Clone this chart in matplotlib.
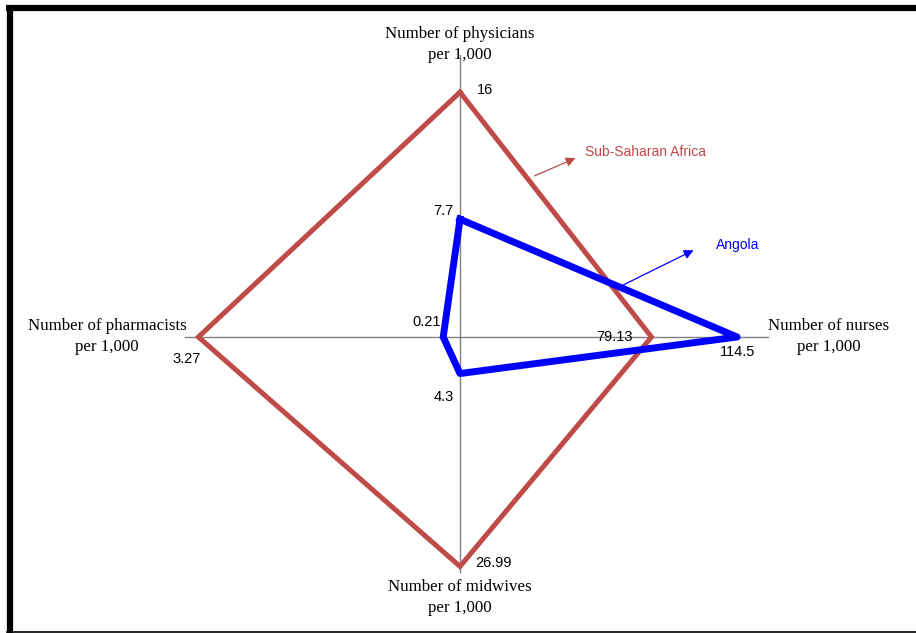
import numpy as np
import matplotlib
matplotlib.use("Agg")
import matplotlib.pyplot as plt

# 데이터
categories = ["Number of physicians\nper 1,000", "Number of nurses\nper 1,000",
              "Number of midwives\nper 1,000", "Number of pharmacists\nper 1,000"]
ssa_values = [16, 79.13, 26.99, 3.27]
angola_values = [7.7, 114.5, 4.3, 0.21]
series_names = ["Sub-Saharan Africa", "Angola"]

# 축 방향 (위, 오른쪽, 아래, 왼쪽) / 픽셀 당 단위
directions = np.array([[0, -1], [1, 0], [0, 1], [-1, 0]])
px_per_unit = np.array([15.3, 2.42, 8.5, 80.0])
axis_len = np.array([282, 308, 235, 275])
center = np.array([460, 337])

ssa_color = "#BE4B48"
angola_color = "#0000FF"
serif = "Liberation Serif"
sans = "Liberation Sans"


def to_xy(values):
    pts = center + directions * (np.array(values) * px_per_unit)[:, None]
    return np.vstack([pts, pts[:1]])


fig = plt.figure(figsize=(9.16, 6.33), dpi=100)
ax = fig.add_axes([0, 0, 1, 1])
ax.set_xlim(0, 916)
ax.set_ylim(633, 0)
ax.axis("off")

# 테두리
ax.plot([6, 916], [8, 8], color="black", lw=4.5, solid_capstyle="butt")
ax.plot([10, 10], [5, 633], color="black", lw=4.5, solid_capstyle="butt")
ax.plot([7, 916], [631.5, 631.5], color="black", lw=1.2)

# 축 선
for d, L in zip(directions, axis_len):
    end = center + d * L
    ax.plot([center[0], end[0]], [center[1], end[1]], color="#808080", lw=1.0, zorder=1)

# 시리즈
ssa_xy = to_xy(ssa_values)
ang_xy = to_xy(angola_values)
ax.plot(ssa_xy[:, 0], ssa_xy[:, 1], color=ssa_color, lw=3.6, zorder=2, solid_joinstyle="miter")
ax.plot(ang_xy[:, 0], ang_xy[:, 1], color=angola_color, lw=5.0, zorder=3, solid_joinstyle="round")

# 값 라벨 (오프셋, 정렬)
ssa_offsets = [(17, -2, "left"), (-37, 0, "center"), (15, -3, "left"), (-12, 22, "center")]
ang_offsets = [(-7, -8, "right"), (0, 15, "center"), (-6, 23, "right"), (-2, -15, "right")]
for vals, xy, offs in [(ssa_values, ssa_xy, ssa_offsets), (angola_values, ang_xy, ang_offsets)]:
    for v, (x, y), (dx, dy, ha) in zip(vals, xy[:-1], offs):
        ax.text(x + dx, y + dy, str(v), fontsize=10.5, family=sans, ha=ha, va="center", zorder=4)

# 축 제목 (줄마다 따로)
title_pos = [(460, 34), (829, 326), (460, 587), (107, 326)]
for cat, (x, y) in zip(categories, title_pos):
    for i, line in enumerate(cat.split("\n")):
        ax.text(x, y + i * 21, line, fontsize=12.2, family=serif, ha="center", va="center",
                zorder=0)

# 시리즈 이름 화살표
ax.text(585, 152, series_names[0], color=ssa_color, fontsize=10, family=sans,
        va="center", ha="left")
ax.annotate("", xy=(578, 157), xytext=(532, 177),
            arrowprops=dict(arrowstyle="-|>", color=ssa_color, lw=0.9, mutation_scale=14))
ax.text(716, 245, series_names[1], color=angola_color, fontsize=10, family=sans,
        va="center", ha="left")
ax.annotate("", xy=(696, 249), xytext=(613, 290),
            arrowprops=dict(arrowstyle="-|>", color=angola_color, lw=0.9, mutation_scale=14))

fig.savefig("out.png", dpi=100)
